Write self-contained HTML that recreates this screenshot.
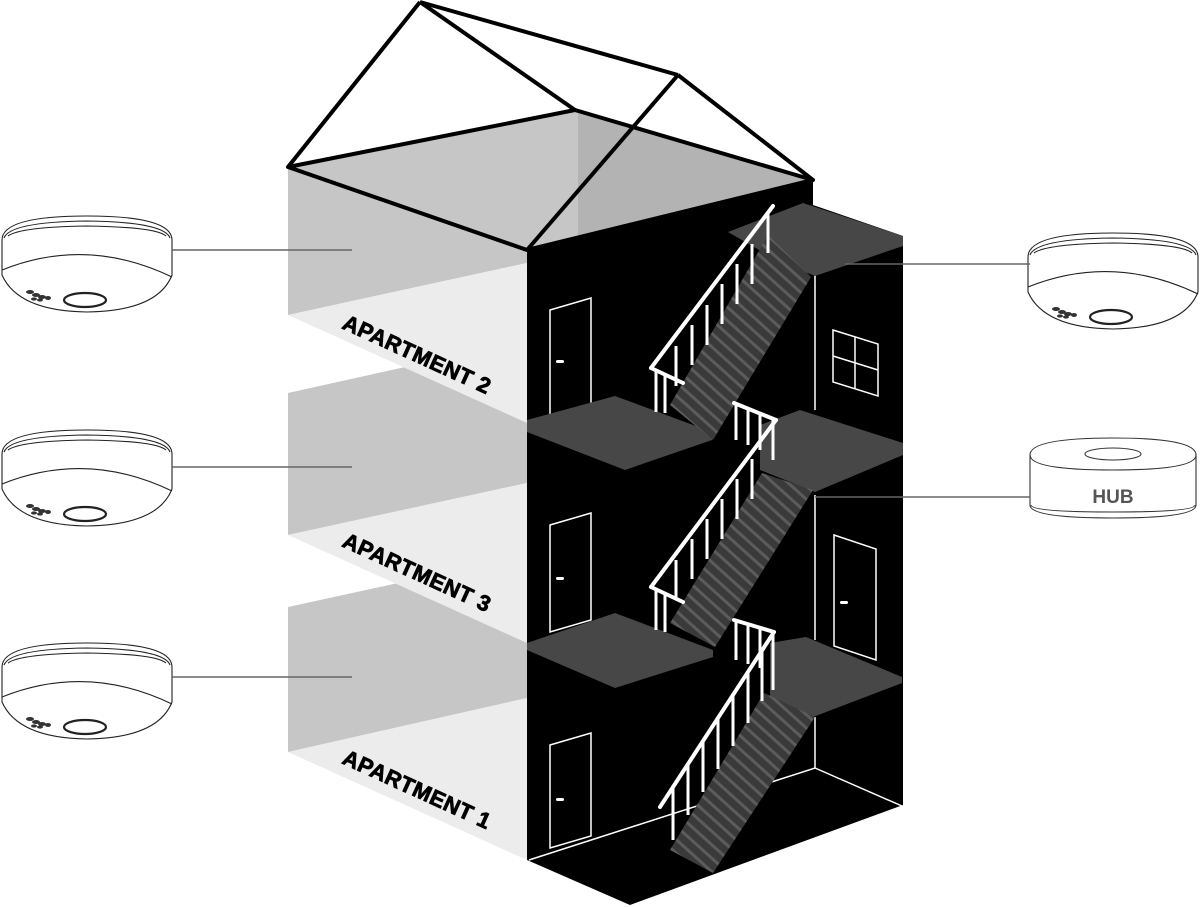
<!DOCTYPE html>
<html><head><meta charset="utf-8"><style>
html,body{margin:0;padding:0;background:#fff;}
svg{display:block;}
text{font-family:"Liberation Sans",sans-serif;}
</style></head><body>
<svg width="1200" height="907" viewBox="0 0 1200 907" xmlns="http://www.w3.org/2000/svg">
<defs>
<pattern id="steps" width="10" height="10" patternUnits="userSpaceOnUse" patternTransform="rotate(42)">
<rect width="10" height="10" fill="#3a3a3a"/><rect width="10" height="3" fill="#5c5c5c"/>
</pattern>
<g id="det" fill="#fff" stroke="#222" stroke-width="1.1">
<path d="M2,40 Q2,16 87,16 Q172,16 172,40 L172,75 Q158,111 87,112 Q18,111 2,75 Z"/>
<path d="M4,38 Q10,22 87,21 Q164,22 170,38" fill="none"/>
<path d="M8,36 Q20,27 87,26 Q156,27 166,36" fill="none"/>
<path d="M2,70 Q87,36 172,77" fill="none"/>
<ellipse cx="85" cy="100" rx="21" ry="7" stroke-width="2.2"/>
<g fill="#333" stroke="none"><ellipse cx="30" cy="92" rx="4" ry="2"/><ellipse cx="36" cy="95" rx="4" ry="2"/><ellipse cx="42" cy="97" rx="4" ry="2"/><ellipse cx="48" cy="98" rx="3" ry="2"/><ellipse cx="34" cy="99" rx="3" ry="1.6"/><ellipse cx="40" cy="100" rx="3" ry="1.6"/></g>
</g>
</defs>

<!-- detectors -->
<use href="#det" transform="translate(0,200)"/>
<use href="#det" transform="translate(0,414)"/>
<use href="#det" transform="translate(0,627)"/>
<use href="#det" transform="translate(1026,217)"/>

<!-- hub -->
<g fill="#fff" stroke="#333" stroke-width="1.1">
<path d="M1030,455 Q1030,438 1113,438 Q1196,438 1196,455 L1196,505 Q1196,518 1113,518 Q1030,518 1030,505 Z"/>
<path d="M1030,455 Q1030,470 1113,470 Q1196,470 1196,455" fill="none"/>
<path d="M1031,505 Q1031,512 1113,512 Q1195,512 1195,505" fill="none"/>
<ellipse cx="1113" cy="454" rx="28" ry="6"/>
</g>
<text x="1113" y="503" font-size="19" font-weight="bold" fill="#555" text-anchor="middle">HUB</text>

<!-- left faces -->
<polygon points="288,167 575,110 813,180 527,250" fill="#c6c6c6"/>
<polygon points="578,112 813,180 578,237" fill="#b3b3b3"/>
<polygon points="288,167 527,250 527,263 288,315" fill="#c6c6c6"/>
<polygon points="288,393 527,340 527,483 288,535" fill="#c6c6c6"/>
<polygon points="288,607 527,555 527,698 288,752" fill="#c6c6c6"/>
<polygon points="288,315 527,263 527,423" fill="#ececec"/>
<polygon points="288,535 527,483 527,643" fill="#ececec"/>
<polygon points="288,752 527,698 527,860" fill="#ececec"/>

<g font-size="22" font-weight="bold" fill="#000" stroke="#000" stroke-width="0.8" letter-spacing="0.5">
<text transform="translate(341,328) rotate(24.5)">APARTMENT 2</text>
<text transform="translate(341,546) rotate(24.5)">APARTMENT 3</text>
<text transform="translate(341,763) rotate(24.5)">APARTMENT 1</text>
</g>

<!-- black stairwell -->
<polygon points="527,250 813,180 813,205 903,236 903,805 630,905 527,860" fill="#000"/>

<!-- inner lines -->
<g stroke="#fff" stroke-width="1.5" fill="none">
<line x1="815" y1="272" x2="815" y2="410"/>
<line x1="815" y1="495" x2="815" y2="640"/>
<line x1="815" y1="717" x2="815" y2="768"/>
<polyline points="529,860 815,768 902,806"/>
<polygon points="550,310 591,298 591,408 550,420"/>
<polygon points="550,525 591,513 591,620 550,632"/>
<polygon points="550,745 591,733 591,836 550,848"/>
<polygon points="834,535 876,549 876,660 834,646"/>
<polygon points="833,330 878,344 878,396 833,382"/>
<line x1="855" y1="337" x2="855" y2="389"/>
<line x1="833" y1="356" x2="878" y2="370"/>
</g>
<g fill="#fff">
<rect x="556" y="360" width="8" height="3" rx="1.5"/>
<rect x="556" y="577" width="8" height="3" rx="1.5"/>
<rect x="556" y="798" width="8" height="3" rx="1.5"/>
<rect x="840" y="601" width="8" height="3" rx="1.5"/>
</g>

<!-- landings -->
<g fill="#474747">
<polygon points="728,232 803,203 903,236 903,246 815,276 780,262"/>
<polygon points="527,420 615,396 712,432 712,440 625,470 527,432"/>
<polygon points="760,425 800,410 903,443 903,455 815,492 760,470"/>
<polygon points="527,643 615,613 713,650 713,657 615,688 527,650"/>
<polygon points="770,643 806,637 902,677 902,683 813,717 770,697"/>
</g>

<!-- flights -->
<g fill="url(#steps)">
<polygon points="670,405 768,235 811,277 713,440"/>
<polygon points="670,623 762,473 813,490 715,647"/>
<polygon points="670,850 764,693 815,717 713,873"/>
</g>

<!-- railings -->
<g stroke="#fff" stroke-width="4" stroke-linecap="round" fill="none">
<line x1="651" y1="368" x2="773" y2="206"/>
<line x1="651" y1="368" x2="683" y2="383"/>
<line x1="734" y1="403" x2="776" y2="420"/>
<line x1="651" y1="587" x2="776" y2="420"/>
<line x1="651" y1="587" x2="683" y2="602"/>
<line x1="734" y1="620" x2="774" y2="632"/>
<line x1="660" y1="807" x2="774" y2="632"/>
</g>
<g stroke="#fff" stroke-width="3">
<line x1="656" y1="372" x2="656" y2="412"/><line x1="665" y1="373" x2="665" y2="413"/>
<line x1="676" y1="346" x2="676" y2="386"/><line x1="692" y1="325" x2="692" y2="365"/>
<line x1="707" y1="305" x2="707" y2="345"/><line x1="722" y1="284" x2="722" y2="324"/>
<line x1="737" y1="264" x2="737" y2="304"/><line x1="752" y1="244" x2="752" y2="284"/>
<line x1="768" y1="213" x2="768" y2="253"/>
<line x1="736" y1="405" x2="736" y2="440"/><line x1="748" y1="410" x2="748" y2="445"/>
<line x1="760" y1="414" x2="760" y2="450"/><line x1="773" y1="420" x2="773" y2="460"/>
<line x1="656" y1="590" x2="656" y2="630"/><line x1="665" y1="592" x2="665" y2="632"/>
<line x1="676" y1="560" x2="676" y2="600"/><line x1="692" y1="539" x2="692" y2="579"/>
<line x1="707" y1="519" x2="707" y2="559"/><line x1="722" y1="499" x2="722" y2="539"/>
<line x1="737" y1="479" x2="737" y2="519"/><line x1="752" y1="459" x2="752" y2="499"/>
<line x1="736" y1="622" x2="736" y2="660"/><line x1="748" y1="626" x2="748" y2="664"/>
<line x1="760" y1="629" x2="760" y2="668"/><line x1="773" y1="632" x2="773" y2="690"/>
<line x1="673" y1="788" x2="673" y2="840"/><line x1="688" y1="765" x2="688" y2="815"/>
<line x1="703" y1="742" x2="703" y2="792"/><line x1="718" y1="719" x2="718" y2="769"/>
<line x1="733" y1="696" x2="733" y2="746"/><line x1="748" y1="673" x2="748" y2="723"/>
<line x1="762" y1="651" x2="762" y2="701"/>
</g>

<!-- connector lines (on top) -->
<g stroke="#666" stroke-width="1.5">
<line x1="172" y1="250" x2="352" y2="250"/>
<line x1="172" y1="467" x2="352" y2="467"/>
<line x1="172" y1="677" x2="352" y2="677"/>
<line x1="845" y1="264" x2="1030" y2="264"/>
<line x1="815" y1="497" x2="1030" y2="497"/>
</g>

<!-- roof outline -->
<g stroke="#000" stroke-width="4" stroke-linejoin="round" fill="none">
<polygon points="288,167 575,110 813,180 527,250"/>
<line x1="420" y1="2" x2="288" y2="167"/>
<line x1="420" y1="2" x2="575" y2="110"/>
<line x1="420" y1="2" x2="678" y2="75"/>
<line x1="678" y1="75" x2="527" y2="250"/>
<line x1="678" y1="75" x2="813" y2="180"/>
</g>
</svg>
</body></html>
